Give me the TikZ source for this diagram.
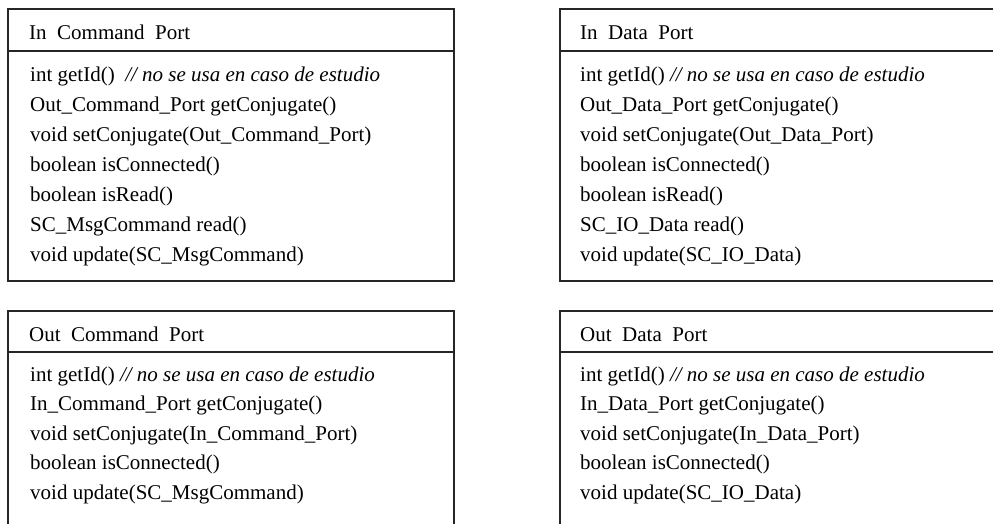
\documentclass[tikz,border=0pt]{standalone}
\usepackage{fontspec}
\setmainfont{Liberation Serif}
\begin{document}
\begin{tikzpicture}[x=1pt,y=-1pt,
  boxline/.style={draw=black!85,line width=1.3pt},
  txt/.style={anchor=base west,inner sep=0pt,font=\fontsize{21}{25}\selectfont,text=black}]
\useasboundingbox (0,0) rectangle (993,523);
\begin{scope}
\clip (0,0) rectangle (993,523);
% top-left box
\draw[boxline] (8,9) rectangle (454,281);
\draw[boxline] (8,51) -- (454,51);
% top-right box
\draw[boxline] (1010,9) -- (560,9) -- (560,281) -- (1010,281);
\draw[boxline] (560,51) -- (1010,51);
% bottom-left box
\draw[boxline] (8,540) -- (8,311) -- (454,311) -- (454,540);
\draw[boxline] (8,352) -- (454,352);
% bottom-right box
\draw[boxline] (560,540) -- (560,311) -- (1010,311);
\draw[boxline] (560,352) -- (1010,352);
\end{scope}
% In Command Port
\node[txt] (a0) at (29,39) {In\ \ Command\ \ Port};
\node[txt] (a1) at (30,81) {int getId()\ \ \textit{// no se usa en caso de estudio}};
\node[txt] (a2) at (30,111) {Out\_Command\_Port getConjugate()};
\node[txt] (a3) at (30,141) {void setConjugate(Out\_Command\_Port)};
\node[txt] (a4) at (30,171) {boolean isConnected()};
\node[txt] (a5) at (30,201) {boolean isRead()};
\node[txt] (a6) at (30,231) {SC\_MsgCommand read()};
\node[txt] (a7) at (30,261) {void update(SC\_MsgCommand)};
% In Data Port
\node[txt] (b0) at (580,39) {In\ \ Data\ \ Port};
\node[txt] (b1) at (580,81) {int getId() \textit{// no se usa en caso de estudio}};
\node[txt] (b2) at (580,111) {Out\_Data\_Port getConjugate()};
\node[txt] (b3) at (580,141) {void setConjugate(Out\_Data\_Port)};
\node[txt] (b4) at (580,171) {boolean isConnected()};
\node[txt] (b5) at (580,201) {boolean isRead()};
\node[txt] (b6) at (580,231) {SC\_IO\_Data read()};
\node[txt] (b7) at (580,261) {void update(SC\_IO\_Data)};
% Out Command Port
\node[txt] (c0) at (29,341) {Out\ \ Command\ \ Port};
\node[txt] (c1) at (30,381) {int getId() \textit{// no se usa en caso de estudio}};
\node[txt] (c2) at (30,410.5) {In\_Command\_Port getConjugate()};
\node[txt] (c3) at (30,440) {void setConjugate(In\_Command\_Port)};
\node[txt] (c4) at (30,469.5) {boolean isConnected()};
\node[txt] (c5) at (30,499) {void update(SC\_MsgCommand)};
% Out Data Port
\node[txt] (d0) at (580,341) {Out\ \ Data\ \ Port};
\node[txt] (d1) at (580,381) {int getId() \textit{// no se usa en caso de estudio}};
\node[txt] (d2) at (580,410.5) {In\_Data\_Port getConjugate()};
\node[txt] (d3) at (580,440) {void setConjugate(In\_Data\_Port)};
\node[txt] (d4) at (580,469.5) {boolean isConnected()};
\node[txt] (d5) at (580,499) {void update(SC\_IO\_Data)};
\end{tikzpicture}
\end{document}
